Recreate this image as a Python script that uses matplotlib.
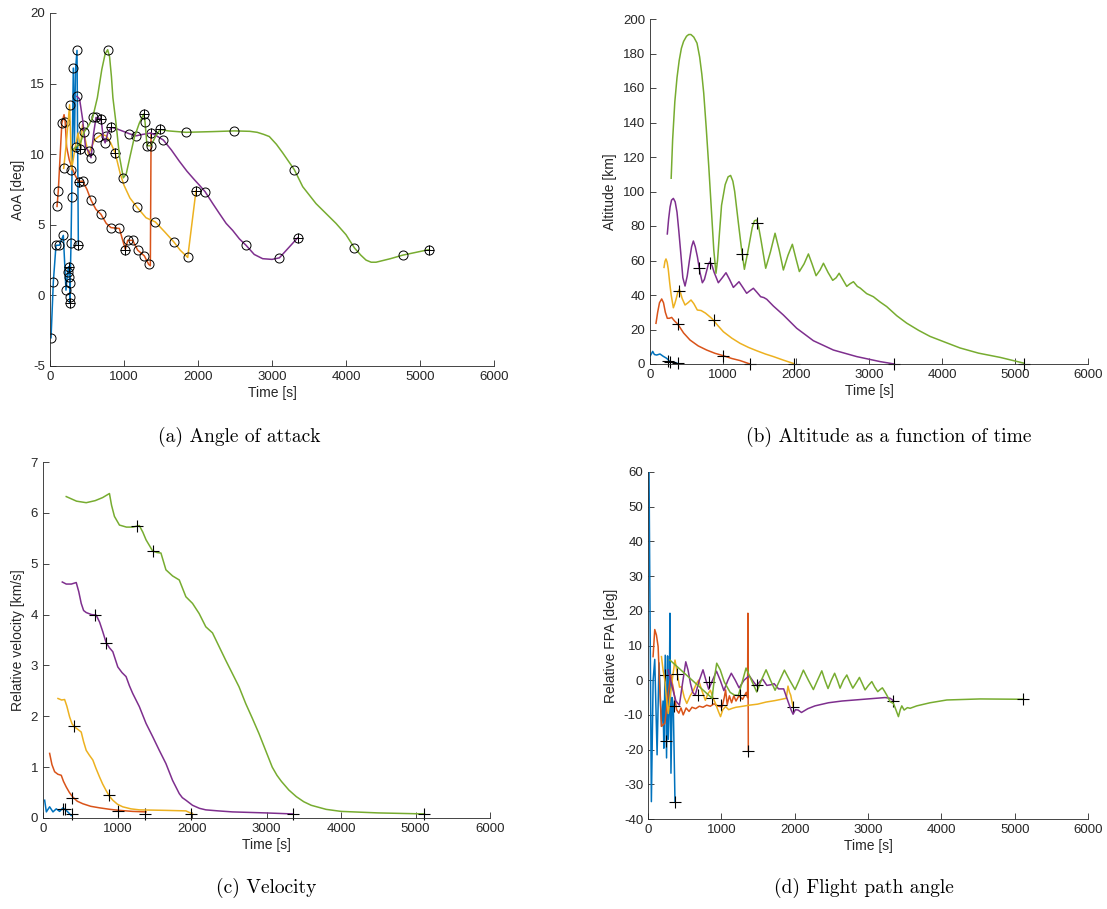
import numpy as np
import matplotlib
matplotlib.use('Agg')
import matplotlib.pyplot as plt

plt.rcParams['font.family'] = ['Liberation Sans', 'DejaVu Sans']
plt.rcParams['axes.unicode_minus'] = False

c_blue = '#0072BD'
c_red = '#D95319'
c_yellow = '#EDB120'
c_purple = '#7E2F8E'
c_green = '#77AC30'

# ---- (a) angle of attack [deg] ----
aoa_blue_t = [14, 45, 81, 126, 180, 216, 239, 252, 261, 275, 270, 266, 284, 293, 315, 330, 345, 365, 383]
aoa_blue = [-3.0, 0.96, 3.55, 3.55, 4.25, 0.37, 1.67, 2.03, 1.31, 0.89, -0.1, -0.53, 3.68, 6.94, 16.1, 10.8, 16.0, 17.35, 3.6]
aoa_blue_ct = [14, 45, 81, 126, 180, 216, 239, 252, 261, 275, 270, 266, 284, 293, 315, 365, 383]
aoa_blue_c = [-3.0, 0.96, 3.55, 3.55, 4.25, 0.37, 1.67, 2.03, 1.31, 0.89, -0.1, -0.53, 3.68, 6.94, 16.1, 17.35, 3.6]
aoa_blue_pt = [252, 266, 383]
aoa_blue_p = [2.03, -0.53, 3.6]

aoa_red_t = [95, 112, 160, 190, 205, 225, 260, 300, 340, 387, 441, 500, 554, 620, 689, 760, 824, 937, 1018, 1050, 1117, 1185, 1275, 1333, 1356, 1366]
aoa_red = [6.3, 7.4, 12.2, 12.8, 12.3, 10.5, 9.6, 9.0, 8.5, 8.06, 8.1, 7.5, 6.75, 6.1, 5.74, 5.1, 4.8, 4.74, 3.25, 3.9, 3.9, 3.2, 2.8, 2.2, 2.1, 11.5]
aoa_red_ct = [95, 112, 160, 205, 387, 441, 554, 689, 824, 937, 1018, 1050, 1117, 1185, 1275, 1333, 1366]
aoa_red_c = [6.3, 7.4, 12.2, 12.3, 8.06, 8.1, 6.75, 5.74, 4.8, 4.74, 3.25, 3.9, 3.9, 3.2, 2.8, 2.2, 11.5]
aoa_red_pt = [387, 1018, 1366]
aoa_red_p = [8.06, 3.25, 11.5]

aoa_yel_t = [185, 215, 240, 265, 280, 290, 310, 340, 380, 410, 440, 470, 520, 600, 644, 700, 761, 820, 880, 950, 1000, 1080, 1171, 1297, 1424, 1550, 1671, 1760, 1861, 1973]
aoa_yel = [9.0, 10.5, 12.0, 13.5, 11.0, 8.9, 9.5, 10.5, 11.5, 10.4, 12.1, 11.2, 10.0, 11.0, 11.2, 11.4, 11.3, 10.8, 10.1, 8.6, 7.8, 6.9, 6.28, 5.5, 5.2, 4.5, 3.8, 3.2, 2.69, 7.42]
aoa_yel_ct = [185, 265, 290, 410, 440, 644, 761, 880, 1171, 1424, 1671, 1861, 1973]
aoa_yel_c = [9.0, 13.5, 8.9, 10.4, 12.1, 11.2, 11.3, 10.1, 6.28, 5.2, 3.8, 2.69, 7.42]
aoa_yel_pt = [410, 880, 1973]
aoa_yel_p = [10.4, 10.1, 7.42]

aoa_pur_t = [365, 400, 440, 480, 523, 554, 590, 622, 689, 720, 745, 780, 830, 900, 1000, 1072, 1162, 1250, 1365, 1440, 1532, 1640, 1748, 1850, 1950, 2020, 2095, 2200, 2289, 2380, 2469, 2560, 2649, 2760, 2874, 3000, 3100, 3347]
aoa_pur = [14.1, 13.9, 12.5, 10.5, 10.2, 9.75, 11.5, 12.6, 12.5, 11.2, 10.8, 11.5, 11.9, 11.8, 11.6, 11.45, 11.3, 11.4, 11.5, 11.3, 11.0, 10.3, 9.5, 8.8, 8.2, 7.8, 7.35, 6.5, 5.8, 5.1, 4.6, 4.0, 3.55, 2.9, 2.6, 2.55, 2.66, 4.08]
aoa_pur_ct = [365, 523, 554, 622, 689, 745, 830, 1072, 1162, 1532, 2095, 2649, 3100, 3347]
aoa_pur_c = [14.1, 10.2, 9.75, 12.6, 12.5, 10.8, 11.9, 11.45, 11.3, 11.0, 7.35, 3.55, 2.66, 4.08]
aoa_pur_pt = [689, 830, 3347]
aoa_pur_p = [12.5, 11.9, 4.08]

aoa_grn_t = [300, 351, 410, 464, 520, 577, 640, 700, 745, 779, 805, 830, 850, 892, 940, 991, 1030, 1080, 1140, 1207, 1266, 1284, 1311, 1365, 1420, 1487, 1600, 1838, 2200, 2491, 2700, 2800, 2890, 2964, 3060, 3144, 3302, 3415, 3595, 3865, 4000, 4113, 4200, 4271, 4340, 4406, 4600, 4766, 5127]
aoa_grn = [10.3, 10.5, 10.8, 11.6, 12.0, 12.6, 14.0, 16.0, 17.1, 17.4, 16.9, 15.5, 14.0, 12.2, 9.8, 8.33, 8.6, 9.8, 11.2, 12.2, 12.85, 12.3, 10.6, 10.6, 11.2, 11.75, 11.65, 11.55, 11.6, 11.65, 11.62, 11.55, 11.4, 11.25, 10.7, 10.1, 8.9, 7.7, 6.5, 5.1, 4.3, 3.37, 2.85, 2.5, 2.35, 2.35, 2.6, 2.85, 3.25]
aoa_grn_ct = [351, 464, 577, 779, 991, 1266, 1284, 1311, 1365, 1487, 1838, 2491, 3302, 4113, 4766, 5127]
aoa_grn_c = [10.5, 11.6, 12.6, 17.4, 8.33, 12.85, 12.3, 10.6, 10.6, 11.75, 11.55, 11.65, 8.9, 3.37, 2.85, 3.25]
aoa_grn_pt = [1266, 1487, 5127]
aoa_grn_p = [12.85, 11.75, 3.25]

# ---- (b) altitude [km] ----
alt_blue_t = [0, 37, 60, 91, 137, 180, 228, 274, 330, 379]
alt_blue = [4.4, 7.3, 5.5, 5.2, 5.8, 4.5, 3.3, 1.4, 1.0, 0.3]
alt_blue_mt = [251, 274, 379]
alt_blue_m = [1.8, 1.0, 0.3]

alt_red_t = [82, 105, 130, 160, 185, 210, 237, 265, 297, 335, 379, 460, 548, 660, 776, 890, 1005, 1120, 1233, 1370]
alt_red = [23.6, 30, 35.5, 37.7, 35.5, 30, 26.5, 26.5, 27, 25, 23.2, 18, 13.9, 10.5, 8.1, 6.2, 4.8, 3.2, 2.0, 0]
alt_red_mt = [379, 1004, 1370]
alt_red_m = [23.2, 4.8, 0]

alt_yel_t = [192, 205, 219, 235, 250, 270, 290, 320, 340, 360, 380, 402, 420, 440, 480, 520, 562, 600, 648, 700, 760, 845, 925, 1005, 1120, 1233, 1350, 1461, 1580, 1690, 1830, 1973]
alt_yel = [56, 59.5, 60.9, 59, 55, 47, 40, 32.6, 35, 38, 41.5, 43.3, 41, 38, 34.2, 35.5, 37.1, 35, 31.3, 31, 29.5, 26.5, 22.5, 18.7, 15, 12, 9.6, 7.7, 5.8, 4.3, 2.2, 0.2]
alt_yel_mt = [401, 877, 1973]
alt_yel_m = [42.5, 25.3, 0.2]

alt_pur_t = [237, 255, 275, 295, 320, 345, 370, 395, 420, 450, 480, 510, 540, 570, 594, 620, 650, 685, 717, 745, 770, 800, 822, 850, 880, 936, 990, 1041, 1090, 1142, 1180, 1219, 1270, 1324, 1370, 1416, 1466, 1516, 1560, 1600, 1690, 1827, 2010, 2238, 2512, 2831, 3151, 3347]
alt_pur = [75.4, 84, 91, 95, 96, 94, 88, 77, 65, 50, 45.2, 51, 60, 68, 71.3, 68, 62, 53, 47.1, 49, 53, 58, 59.3, 57, 53, 47.1, 50, 52.9, 49, 44.4, 46, 47.7, 44.5, 41, 42.5, 43.9, 41.5, 39, 38.5, 37.5, 33.6, 28.4, 20.7, 13.5, 8.1, 4.3, 1.4, 0]
alt_pur_mt = [675, 822, 3347]
alt_pur_m = [55.5, 58.7, 0]

alt_grn_t = [290, 310, 340, 370, 400, 430, 460, 500, 530, 561, 600, 644, 680, 710, 736, 770, 805, 840, 874, 904, 925, 950, 980, 1030, 1070, 1104, 1135, 1160, 1210, 1250, 1293, 1340, 1400, 1430, 1461, 1490, 1520, 1585, 1650, 1713, 1770, 1827, 1890, 1950, 2000, 2046, 2110, 2170, 2220, 2275, 2330, 2376, 2440, 2503, 2550, 2591, 2640, 2695, 2740, 2787, 2840, 2880, 2968, 3060, 3150, 3242, 3380, 3516, 3680, 3836, 4050, 4247, 4500, 4800, 5120]
alt_grn = [107.7, 130, 152, 166, 176, 183, 187, 190, 191, 191, 189.5, 186, 178, 168, 157, 137, 114.5, 90, 66, 52.6, 60, 75, 92, 104, 108.5, 109.3, 106, 100, 82, 68, 54.9, 65, 79, 83, 83.5, 79, 72, 55.5, 65, 75.8, 66, 54.5, 63, 69.4, 61, 53.6, 58, 63.8, 58, 51.2, 54.5, 58.4, 53, 48.5, 50, 52.6, 49, 45, 46.5, 47.7, 45, 44, 40.8, 39, 36, 33.3, 28, 23.7, 19.5, 16, 12.5, 9.3, 6.3, 3.8, 0.5]
alt_grn_mt = [1256, 1461, 5120]
alt_grn_m = [63.8, 81.5, 0]

# ---- (c) relative velocity [km/s] ----
vel_blue_t = [22, 45, 89, 134, 178, 223, 268, 312, 379]
vel_blue = [0.35, 0.12, 0.22, 0.12, 0.18, 0.13, 0.2, 0.15, 0.05]
vel_blue_mt = [268, 290, 392]
vel_blue_m = [0.18, 0.17, 0.07]

vel_red_t = [89, 120, 156, 200, 245, 275, 312, 355, 401, 460, 535, 640, 758, 900, 1026, 1200, 1383]
vel_red = [1.27, 1.05, 0.91, 0.86, 0.84, 0.72, 0.61, 0.5, 0.41, 0.33, 0.28, 0.23, 0.2, 0.17, 0.15, 0.13, 0.12]
vel_red_mt = [390, 1010, 1370]
vel_red_m = [0.4, 0.14, 0.07]

vel_yel_t = [201, 250, 290, 320, 357, 390, 424, 470, 513, 545, 580, 620, 669, 710, 758, 800, 847, 890, 937, 1000, 1070, 1180, 1293, 1650, 1918, 2007]
vel_yel = [2.35, 2.32, 2.33, 2.2, 1.99, 1.85, 1.79, 1.74, 1.69, 1.5, 1.33, 1.24, 1.14, 0.98, 0.81, 0.67, 0.54, 0.43, 0.35, 0.27, 0.22, 0.18, 0.16, 0.15, 0.14, 0.08]
vel_yel_mt = [420, 880, 1990]
vel_yel_m = [1.8, 0.45, 0.08]

vel_pur_t = [259, 312, 380, 446, 480, 513, 545, 580, 650, 714, 760, 803, 847, 890, 937, 1004, 1060, 1115, 1160, 1204, 1293, 1383, 1472, 1561, 1650, 1739, 1829, 1870, 1918, 2007, 2100, 2185, 2350, 2542, 2988, 3350]
vel_pur = [4.64, 4.6, 4.6, 4.63, 4.45, 4.22, 4.08, 4.04, 4.0, 3.99, 3.85, 3.66, 3.45, 3.35, 3.27, 2.97, 2.86, 2.78, 2.6, 2.45, 2.19, 1.86, 1.6, 1.33, 1.07, 0.74, 0.48, 0.4, 0.35, 0.25, 0.19, 0.16, 0.14, 0.12, 0.1, 0.08]
vel_pur_mt = [700, 840, 3350]
vel_pur_m = [4.0, 3.45, 0.08]

vel_grn_t = [312, 450, 580, 700, 800, 892, 920, 959, 1026, 1120, 1204, 1293, 1340, 1383, 1472, 1530, 1583, 1650, 1739, 1829, 1918, 2007, 2096, 2185, 2275, 2364, 2453, 2542, 2631, 2721, 2810, 2899, 2988, 3077, 3140, 3200, 3300, 3400, 3500, 3600, 3800, 4000, 4500, 5120]
vel_grn = [6.32, 6.23, 6.2, 6.24, 6.3, 6.38, 6.15, 5.93, 5.76, 5.72, 5.72, 5.75, 5.62, 5.47, 5.25, 5.22, 5.21, 4.88, 4.76, 4.68, 4.35, 4.22, 4.02, 3.76, 3.64, 3.37, 3.1, 2.84, 2.58, 2.25, 1.96, 1.66, 1.33, 1.0, 0.84, 0.72, 0.55, 0.42, 0.32, 0.25, 0.17, 0.13, 0.1, 0.08]
vel_grn_mt = [1260, 1480, 5120]
vel_grn_m = [5.75, 5.25, 0.08]

# ---- (d) relative flight path angle [deg] ----
fpa_blue_t = [14, 46, 70, 92, 124, 150, 184, 205, 216, 235, 253, 267, 276, 290, 299, 313, 330, 345, 368]
fpa_blue = [60, -35, 0, 6.0, -21.5, 5.0, -13.3, -6, -19.6, 7.2, -22.4, 7.0, -17, -8, 19.3, -26.8, -5, -7.5, -35]
fpa_blue_mt = [225, 250, 368]
fpa_blue_m = [1.5, -17.5, -35]

fpa_red_t = [69, 92, 115, 138, 160, 184, 230, 276, 310, 350, 390, 420, 450, 480, 520, 560, 600, 650, 700, 750, 800, 850, 900, 960, 1010, 1040, 1058, 1080, 1110, 1140, 1170, 1200, 1240, 1290, 1340, 1358, 1362, 1368]
fpa_red = [6.8, 14.6, 13, 9.7, -2, -13.3, -12.4, -3.8, 1.5, -3, -8.5, -9.5, -8, -10, -8, -9, -7.8, -8.2, -7.5, -7.8, -7.2, -7.5, -6.8, -7.5, -7.7, -5, -2.8, -7, -4.5, -6.5, -4.5, -6, -4.5, -5.5, -3.5, -5, 19.3, -20.5]
fpa_red_mt = [350, 989, 1366]
fpa_red_m = [-7.5, -7.2, -20.5]

fpa_yel_t = [184, 205, 230, 255, 276, 300, 330, 368, 400, 430, 460, 495, 529, 575, 621, 660, 690, 735, 782, 815, 851, 885, 920, 960, 989, 1020, 1058, 1100, 1150, 1200, 1265, 1380, 1495, 1610, 1725, 1820, 1886, 1900, 1909, 1930, 1946, 1978]
fpa_yel = [6.8, 3, 0, -6, -9.6, -5, 0, 5.8, 1.8, -2, -1.9, -5, -6.7, -4.5, -2.9, -1, 0, -3, -5.8, -4, -2.9, -5, -6.7, -9, -10.5, -8.5, -7.6, -8.5, -8.1, -7.8, -7.6, -7.2, -6.9, -6.3, -5.9, -5.5, -5.2, -3, -1.7, -3.5, -4.3, -7.7]
fpa_yel_mt = [395, 874, 1978]
fpa_yel_m = [1.9, -5.1, -7.7]

fpa_pur_t = [276, 330, 380, 428, 470, 515, 545, 580, 610, 644, 700, 750, 790, 828, 880, 934, 985, 1035, 1090, 1136, 1190, 1242, 1310, 1380, 1440, 1480, 1520, 1564, 1620, 1679, 1720, 1780, 1850, 1909, 1950, 1978, 2010, 2047, 2093, 2180, 2277, 2461, 2645, 2938, 3233, 3300, 3347]
fpa_pur = [3.0, -2, -6, -7.2, -1, 5.3, 3, -1, -3.5, -4.3, 0, 3.0, 0, -2.6, 0, 2.6, 0, -3.0, 0, 2.0, 0, -2.2, 0, 1.3, -0.5, -1.6, -0.5, 0.3, -1.5, -1.3, -1.0, -2.5, -2.5, -6.1, -8.5, -9.8, -8.5, -8.6, -9.3, -8.2, -7.4, -6.5, -6.0, -5.5, -5.0, -5.2, -5.9]
fpa_pur_mt = [676, 828, 3347]
fpa_pur_m = [-4.3, -0.6, -6.0]

fpa_grn_t = [299, 874, 905, 937, 985, 1040, 1120, 1180, 1232, 1285, 1337, 1410, 1483, 1546, 1610, 1670, 1733, 1796, 1860, 1932, 2005, 2062, 2119, 2187, 2255, 2312, 2370, 2412, 2455, 2500, 2545, 2582, 2619, 2665, 2711, 2752, 2793, 2838, 2883, 2922, 2960, 3006, 3052, 3092, 3133, 3165, 3196, 3226, 3256, 3302, 3347, 3380, 3415, 3440, 3461, 3493, 3538, 3574, 3665, 3847, 4075, 4529, 5120]
fpa_grn = [5.8, -5.2, 0.5, 4.9, 3.0, -0.5, -3.5, -4.3, -4.4, -0.5, 3.5, 0, -3.4, 0, 3.0, 0, -2.9, 0, 2.9, 0, -2.7, 0, 2.9, 0, -2.7, 0, 2.7, 0, -2.4, 0, 2.0, 0, -2.3, 0, 1.5, -0.5, -2.3, -0.8, 0.8, -1.0, -2.8, -1.5, -0.4, -2.0, -3.3, -2.7, -2.2, -3.2, -4.3, -6.2, -6.7, -8.5, -10.5, -8.5, -7.4, -8.6, -7.9, -8.1, -7.4, -6.5, -5.7, -5.4, -5.5]
fpa_grn_mt = [1256, 1486, 5120]
fpa_grn_m = [-4.3, -1.3, -5.5]

axis_col = '#262626'
W, H = 1107, 909
fig = plt.figure(figsize=(W / 100, H / 100), dpi=100)


def make_ax(x0, y0, x1, y1):
    # pixel box -> figure fraction
    ax = fig.add_axes([x0 / W, 1 - y1 / H, (x1 - x0) / W, (y1 - y0) / H])
    for s in ['top', 'right']:
        ax.spines[s].set_visible(False)
    for s in ['left', 'bottom']:
        ax.spines[s].set_color(axis_col)
        ax.spines[s].set_linewidth(0.6)
    ax.tick_params(direction='in', length=4, width=0.6, colors=axis_col, labelsize=9.5)
    ax.set_xlim(0, 6000)
    ax.set_xticks(range(0, 7000, 1000))
    ax.set_xlabel('Time [s]', fontsize=10, color=axis_col, labelpad=2)
    return ax


lw = 1.1
colors = [c_blue, c_red, c_yellow, c_purple, c_green]

# (a)
ax = make_ax(50, 13, 494, 366)
series_a = [(aoa_blue_t, aoa_blue, aoa_blue_ct, aoa_blue_c, aoa_blue_pt, aoa_blue_p),
            (aoa_red_t, aoa_red, aoa_red_ct, aoa_red_c, aoa_red_pt, aoa_red_p),
            (aoa_yel_t, aoa_yel, aoa_yel_ct, aoa_yel_c, aoa_yel_pt, aoa_yel_p),
            (aoa_pur_t, aoa_pur, aoa_pur_ct, aoa_pur_c, aoa_pur_pt, aoa_pur_p),
            (aoa_grn_t, aoa_grn, aoa_grn_ct, aoa_grn_c, aoa_grn_pt, aoa_grn_p)]
for col, (t, v, ct, cv, pt, pv) in zip(colors, series_a):
    ax.plot(t, v, color=col, lw=lw)
    ax.plot(ct, cv, 'o', mfc='none', mec='k', ms=6.5, mew=0.7)
    ax.plot(pt, pv, '+', color='k', ms=6.5, mew=0.7)
ax.set_ylim(-5, 20)
ax.set_yticks(range(-5, 25, 5))
ax.set_ylabel('AoA [deg]', fontsize=10, color=axis_col, labelpad=4)

# (b)
ax = make_ax(650, 19, 1088, 364)
series_b = [(alt_blue_t, alt_blue, alt_blue_mt, alt_blue_m),
            (alt_red_t, alt_red, alt_red_mt, alt_red_m),
            (alt_yel_t, alt_yel, alt_yel_mt, alt_yel_m),
            (alt_pur_t, alt_pur, alt_pur_mt, alt_pur_m),
            (alt_grn_t, alt_grn, alt_grn_mt, alt_grn_m)]
for col, (t, v, mt, mv) in zip(colors, series_b):
    ax.plot(t, v, color=col, lw=lw)
    ax.plot(mt, mv, '+', color='k', ms=8, mew=0.8, clip_on=False)
ax.set_ylim(0, 200)
ax.set_yticks(range(0, 220, 20))
ax.set_ylabel('Altitude [km]', fontsize=10, color=axis_col, labelpad=4)

# (c)
ax = make_ax(43, 462, 490, 818)
series_c = [(vel_blue_t, vel_blue, vel_blue_mt, vel_blue_m),
            (vel_red_t, vel_red, vel_red_mt, vel_red_m),
            (vel_yel_t, vel_yel, vel_yel_mt, vel_yel_m),
            (vel_pur_t, vel_pur, vel_pur_mt, vel_pur_m),
            (vel_grn_t, vel_grn, vel_grn_mt, vel_grn_m)]
for col, (t, v, mt, mv) in zip(colors, series_c):
    ax.plot(t, v, color=col, lw=lw)
    ax.plot(mt, mv, '+', color='k', ms=8, mew=0.8, clip_on=False)
ax.set_ylim(0, 7)
ax.set_yticks(range(0, 8))
ax.set_ylabel('Relative velocity [km/s]', fontsize=10, color=axis_col, labelpad=4)

# (d)
ax = make_ax(648, 472, 1088, 819)
series_d = [(fpa_blue_t, fpa_blue, fpa_blue_mt, fpa_blue_m),
            (fpa_red_t, fpa_red, fpa_red_mt, fpa_red_m),
            (fpa_yel_t, fpa_yel, fpa_yel_mt, fpa_yel_m),
            (fpa_pur_t, fpa_pur, fpa_pur_mt, fpa_pur_m),
            (fpa_grn_t, fpa_grn, fpa_grn_mt, fpa_grn_m)]
for col, (t, v, mt, mv) in zip(colors, series_d):
    ax.plot(t, v, color=col, lw=lw)
    ax.plot(mt, mv, '+', color='k', ms=8, mew=0.8)
ax.set_ylim(-40, 60)
ax.set_yticks(range(-40, 70, 10))
ax.set_ylabel('Relative FPA [deg]', fontsize=10, color=axis_col, labelpad=4)

# sub-figure captions
cap = dict(family='cmr10', fontsize=14, ha='center', va='center')
fig.text(239 / W, 1 - 437 / H, '(a) Angle of attack', **cap)
fig.text(889 / W, 1 - 437 / H, '(b) Altitude as a function of time', **cap)
fig.text(266 / W, 1 - 888 / H, '(c) Velocity', **cap)
fig.text(864 / W, 1 - 888 / H, '(d) Flight path angle', **cap)

fig.savefig('out.png', dpi=100)
